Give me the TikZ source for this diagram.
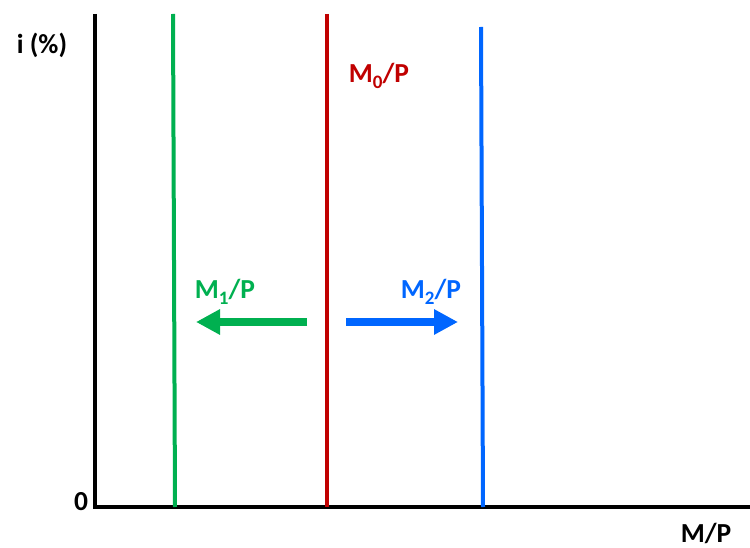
\documentclass[tikz,border=0pt]{standalone}
\usepackage{fontspec}
\setmainfont{Carlito}
\usetikzlibrary{arrows.meta}
\definecolor{mred}{RGB}{192,0,0}
\definecolor{mgreen}{RGB}{0,176,80}
\definecolor{mblue}{RGB}{0,102,255}
\newcommand{\msub}[1]{\raisebox{-0.22em}{\fontsize{19}{19}\selectfont #1}}

\begin{document}
\begin{tikzpicture}[x=1pt,y=-1pt,
    axis/.style={line width=4pt},
    supply/.style={line width=4pt},
    movearrow/.style={line width=8pt,-{Triangle[length=24pt,width=24pt]}},
    lbl/.style={font=\fontsize{27.5}{30}\selectfont\bfseries,inner sep=0pt}]
  \useasboundingbox (0,0) rectangle (750,548);
  % axes
  \coordinate (top) at (95,14);
  \coordinate (origin) at (95,507);
  \coordinate (right) at (750,507);
  \draw[axis] (top) -- (origin) -- (right);
  \node[lbl] (ilabel) at (42,45) {i (\%)};
  \node[lbl] (zero) at (81,502) {0};
  \node[lbl] (mplabel) at (706,533) {M/P};
  % money supply lines
  \coordinate (m1top) at (173,14);
  \coordinate (m1bot) at (175,507);
  \coordinate (m0top) at (327,14);
  \coordinate (m0bot) at (327,507);
  \coordinate (m2top) at (481,27);
  \coordinate (m2bot) at (483,507);
  \draw[supply,mgreen] (m1top) -- (m1bot);
  \draw[supply,mred] (m0top) -- (m0bot);
  \draw[supply,mblue] (m2top) -- (m2bot);
  \node[lbl,mred] (m0) at (379,76) {M\msub{0}/P};
  \node[lbl,mgreen] (m1) at (225,292) {M\msub{1}/P};
  \node[lbl,mblue] (m2) at (431,292) {M\msub{2}/P};
  % shifts
  \coordinate (lstart) at (307,322);
  \coordinate (lend) at (196,322);
  \coordinate (rstart) at (346,322);
  \coordinate (rend) at (458,322);
  \draw[movearrow,mgreen] (lstart) -- (lend);
  \draw[movearrow,mblue] (rstart) -- (rend);
\end{tikzpicture}
\end{document}
